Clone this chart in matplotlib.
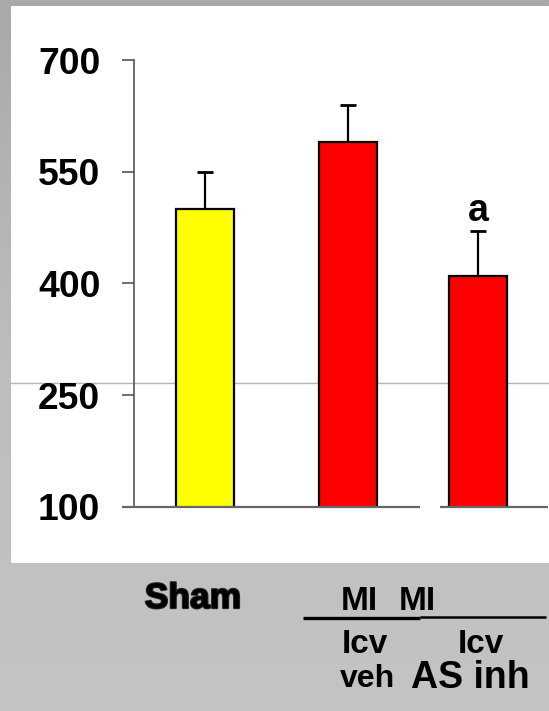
import numpy as np
import matplotlib
matplotlib.use("Agg")
import matplotlib.pyplot as plt
from matplotlib import patheffects as pe
from matplotlib.lines import Line2D
from matplotlib.patches import Rectangle

# ---- data ----
groups = ["Sham", "MI Icv veh", "MI Icv AS inh"]
means = [500, 590, 410]
sems = [50, 50, 60]
bar_colors = ["#ffff00", "#ff0000", "#ff0000"]
positions = [0.0, 1.0, 1.91]
y_ticks = [100, 250, 400, 550, 700]
sig_marks = ["", "", "a"]

W, H = 549, 711
fig = plt.figure(figsize=(W / 100, H / 100), dpi=100)
fig.patch.set_facecolor("#bcbcbc")


def fx(px):
    return px / W


def fy(py):
    return 1 - py / H


# background: grey gradient, white panel and the thin grey rule
bg = fig.add_axes([0, 0, 1, 1], zorder=-10)
bg.set_xlim(0, W)
bg.set_ylim(H, 0)
bg.axis("off")
grad = np.linspace(0, 1, 256).reshape(-1, 1)
bg.imshow(grad, extent=[0, W, H, 0], aspect="auto",
          cmap=matplotlib.colors.LinearSegmentedColormap.from_list(
              "g", ["#a9a9a9", "#bdbdbd", "#c4c4c4"]))
bg.add_patch(Rectangle((11, 6), W - 11, 557, facecolor="white", edgecolor="none"))
bg.plot([11, W], [383, 383], color="#b4b4b4", lw=1.0)

# main axes: y axis spine at x=133.7 px, 100 at 506.7 px, 700 at 60 px
left_px, right_px, top_px, bot_px = 133.7, 549, 60, 506.7
ax = fig.add_axes([fx(left_px), fy(bot_px), (right_px - left_px) / W,
                   (bot_px - top_px) / H], zorder=1)
ax.patch.set_alpha(0)
ax.set_ylim(100, 700)
ax.set_xlim(-0.497, 2.407)

ax.bar(positions, means, width=0.406, bottom=0, color=bar_colors,
       edgecolor="black", linewidth=1.6, zorder=3)
ax.set_ylim(100, 700)
ax.errorbar(positions, means, yerr=[np.zeros(len(sems)), sems], fmt="none",
            ecolor="black", elinewidth=1.6, capsize=5.5, capthick=2.0, zorder=2)

for x, m, s, t in zip(positions, means, sems, sig_marks):
    if t:
        ax.annotate(t, (x, m + s), xytext=(0, 7.5), textcoords="offset points",
                    ha="center", va="baseline", fontsize=27, fontweight="bold",
                    family="Liberation Sans")

for sp in ["top", "right", "bottom"]:
    ax.spines[sp].set_visible(False)
ax.spines["left"].set_color("#555555")
ax.spines["left"].set_linewidth(1.2)
ax.set_yticks(y_ticks)
ax.set_yticklabels([str(v) for v in y_ticks])
ax.tick_params(axis="y", direction="out", length=9, width=1.2, color="#555555",
               pad=15, labelsize=26.8)
for lab in ax.get_yticklabels():
    lab.set_fontweight("bold")
    lab.set_family("Liberation Sans")
ax.set_xticks([])

# broken baseline
for x0, x1 in [(-0.581, 1.505), (1.645, 2.40)]:
    ax.plot([x0, x1], [100, 100], color="#666666", lw=1.6, clip_on=False,
            zorder=4, solid_capstyle="butt")

# group labels below the panel
txt = dict(ha="center", va="baseline", fontweight="bold",
           family="Liberation Sans", color="black")
fig.text(fx(193), fy(608), "Sham", fontsize=25.5,
         path_effects=[pe.withStroke(linewidth=1.6, foreground="#222222")], **txt)
fig.text(fx(359), fy(610), "MI", fontsize=24, **txt)
fig.text(fx(417), fy(610), "MI", fontsize=24, **txt)
fig.text(fx(365), fy(653), "Icv", fontsize=24, **txt)
fig.text(fx(481), fy(653), "Icv", fontsize=24, **txt)
fig.text(fx(368), fy(687), "veh", fontsize=23, **txt)
fig.text(fx(470), fy(688), "AS inh", fontsize=27, **txt)

fig.add_artist(Line2D([fx(303), fx(420)], [fy(618), fy(618)], color="black",
                      lw=2.4, solid_capstyle="butt"))
fig.add_artist(Line2D([fx(420), fx(546)], [fy(617), fy(617)], color="black",
                      lw=1.8, solid_capstyle="butt"))

fig.savefig("out.png", dpi=100, facecolor=fig.get_facecolor())
